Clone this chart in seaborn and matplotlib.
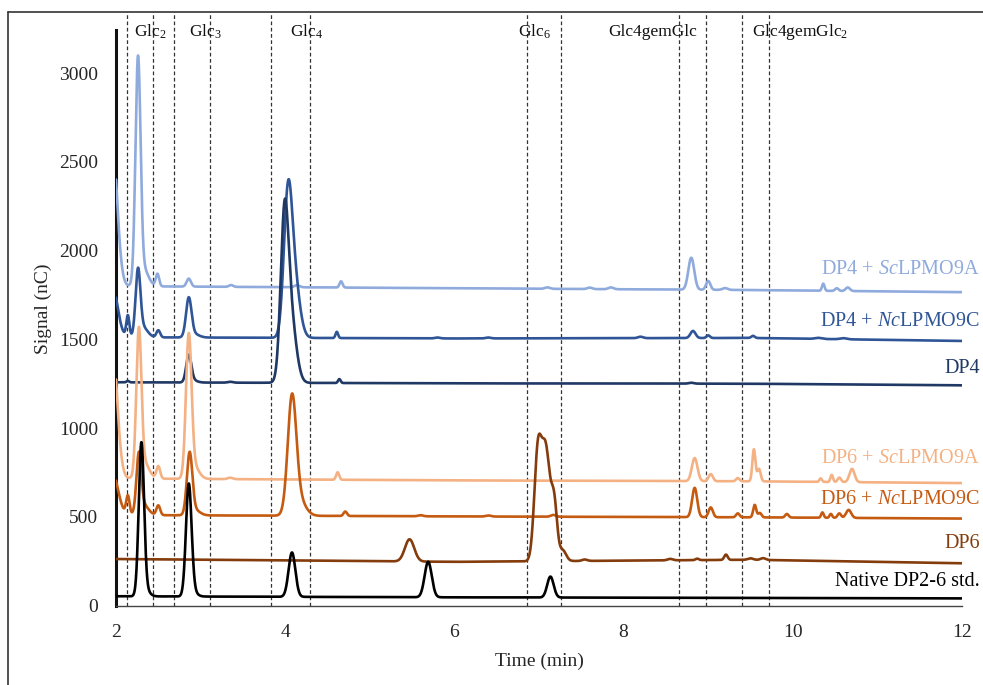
import numpy as np
import pandas as pd
import matplotlib.pyplot as plt
import seaborn as sns
from matplotlib.lines import Line2D

# ----------------------------------------------------------------------------
# Data
# each trace = baseline (times/values) + peaks (retention time, height, width)
# ----------------------------------------------------------------------------
SAMPLES = [
    "DP4 + $\\mathit{Sc}$LPMO9A",
    "DP4 + $\\mathit{Nc}$LPMO9C",
    "DP4",
    "DP6 + $\\mathit{Sc}$LPMO9A",
    "DP6 + $\\mathit{Nc}$LPMO9C",
    "DP6",
    "Native DP2-6 std.",
]
COLORS = ["#8FAADC", "#2F5597", "#203864", "#F4B183", "#C55A11", "#843C0C", "#000000"]
LABEL_Y = [1895, 1603, 1338, 826, 600, 352, 138]

BASE_T = [2, 6, 9.5, 12]

dp4sc_base = [1800, 1788, 1778, 1766]
dp4sc_rt = [1.95, 2.26, 2.32, 2.49, 2.86, 3.36, 4.14, 4.66, 7.10, 7.60, 7.85,
            8.80, 9.00, 9.20, 10.36, 10.52, 10.65]
dp4sc_h = [850, 1240, 100, 70, 45, 10, 12, 35, 8, 8, 10,
           180, 50, 10, 40, 15, 20]
dp4sc_w = [0.06, 0.03, 0.06, 0.02, 0.025, 0.025, 0.03, 0.018, 0.03, 0.03, 0.03,
           0.035, 0.025, 0.03, 0.015, 0.02, 0.025]

dp4nc_base = [1512, 1505, 1508, 1491]
dp4nc_rt = [1.95, 2.14, 2.26, 2.31, 2.50, 2.86, 2.92, 4.03, 4.10, 4.61,
            5.80, 6.40, 8.20, 8.82, 9.00, 9.53, 10.30, 10.60]
dp4nc_h = [300, 120, 350, 60, 40, 215, 20, 680, 350, 35,
           5, 5, 8, 40, 15, 12, 6, 6]
dp4nc_w = [0.065, 0.018, 0.028, 0.06, 0.022, 0.032, 0.06, 0.048, 0.065, 0.015,
           0.03, 0.03, 0.03, 0.03, 0.02, 0.02, 0.04, 0.04]

dp4_base = [1258, 1252, 1250, 1241]
dp4_rt = [2.14, 2.86, 2.91, 3.35, 3.99, 4.06, 4.64, 8.80]
dp4_h = [8, 150, 12, 5, 810, 380, 22, 5]
dp4_w = [0.015, 0.03, 0.05, 0.03, 0.045, 0.065, 0.015, 0.03]

dp6sc_base = [716, 705, 700, 690]
dp6sc_rt = [1.95, 2.27, 2.33, 2.50, 2.86, 2.92, 3.35, 4.62, 8.84, 9.03, 9.35,
            9.54, 9.60, 10.33, 10.46, 10.55, 10.70]
dp6sc_h = [790, 800, 90, 70, 780, 70, 8, 42, 130, 40, 18,
           180, 70, 20, 40, 25, 75]
dp6sc_w = [0.06, 0.03, 0.06, 0.022, 0.033, 0.06, 0.03, 0.018, 0.033, 0.025, 0.02,
           0.018, 0.02, 0.015, 0.015, 0.02, 0.03]

dp6nc_base = [510, 502, 497, 490]
dp6nc_rt = [1.95, 2.14, 2.27, 2.32, 2.50, 2.87, 2.93, 4.08, 4.15, 4.71, 5.60,
            6.40, 7.17, 8.84, 9.03, 9.35, 9.55, 9.61, 9.93, 10.35, 10.45,
            10.55, 10.66]
dp6nc_h = [250, 105, 315, 60, 55, 340, 30, 620, 100, 25, 6,
           6, 10, 165, 55, 22, 70, 25, 20, 30, 22,
           25, 45]
dp6nc_w = [0.07, 0.02, 0.028, 0.06, 0.022, 0.032, 0.06, 0.05, 0.08, 0.02, 0.03,
           0.03, 0.03, 0.03, 0.025, 0.02, 0.018, 0.02, 0.02, 0.015, 0.015,
           0.02, 0.03]

dp6_base = [262, 246, 258, 238]
dp6_rt = [5.47, 6.985, 7.08, 7.18, 7.28, 7.54, 8.55, 8.87, 9.21, 9.50, 9.65]
dp6_h = [125, 580, 620, 300, 60, 8, 8, 8, 30, 8, 10]
dp6_w = [0.055, 0.042, 0.05, 0.035, 0.04, 0.03, 0.03, 0.02, 0.02, 0.03, 0.03]

native_base = [52, 46, 43, 40]
native_rt = [2.30, 2.34, 2.86, 2.90, 4.08, 5.69, 7.135]
native_h = [840, 40, 615, 30, 250, 200, 118]
native_w = [0.031, 0.05, 0.033, 0.05, 0.04, 0.042, 0.038]

# dashed windows for each product and their labels
WINDOWS = [2.13, 2.44, 2.69, 3.11, 3.83, 4.29, 6.86, 7.26, 8.65, 8.97, 9.40, 9.72]
PRODUCTS = ["Glc$_2$", "Glc$_3$", "Glc$_4$", "Glc$_6$", "Glc4gemGlc", "Glc4gemGlc$_2$"]
PRODUCT_X = [2.40, 3.06, 4.25, 6.95, 8.34, 10.09]


def build_trace(t, base, rt, h, w):
    """Baseline drift plus gaussian peaks at the read-off retention times."""
    y = np.interp(t, BASE_T, base)
    for c, a, s in zip(rt, h, w):
        y = y + a * np.exp(-0.5 * ((t - c) / s) ** 2)
    return y


def main():
    t = np.arange(2.0, 12.0001, 0.0025)
    traces = [
        (dp4sc_base, dp4sc_rt, dp4sc_h, dp4sc_w),
        (dp4nc_base, dp4nc_rt, dp4nc_h, dp4nc_w),
        (dp4_base, dp4_rt, dp4_h, dp4_w),
        (dp6sc_base, dp6sc_rt, dp6sc_h, dp6sc_w),
        (dp6nc_base, dp6nc_rt, dp6nc_h, dp6nc_w),
        (dp6_base, dp6_rt, dp6_h, dp6_w),
        (native_base, native_rt, native_h, native_w),
    ]
    frames = []
    for name, tr in zip(SAMPLES, traces):
        frames.append(pd.DataFrame({"time": t, "signal": build_trace(t, *tr),
                                    "sample": name}))
    df = pd.concat(frames, ignore_index=True)

    sns.set_theme(style="white")
    plt.rcParams["font.family"] = ["Liberation Serif", "DejaVu Serif"]
    plt.rcParams["mathtext.fontset"] = "custom"
    plt.rcParams["mathtext.rm"] = "Liberation Serif"
    plt.rcParams["mathtext.it"] = "Liberation Serif:italic"
    plt.rcParams["mathtext.default"] = "regular"

    fig = plt.figure(figsize=(9.83, 6.85), dpi=100)
    ax = fig.add_axes([116 / 983, 1 - 605.5 / 685, 846 / 983, 593.5 / 685])

    for x in WINDOWS:
        ax.axvline(x, color="#333333", lw=0.9, ls=(0, (3, 2)), zorder=1)

    sns.lineplot(data=df, x="time", y="signal", hue="sample",
                 palette=dict(zip(SAMPLES, COLORS)), hue_order=SAMPLES,
                 linewidth=1.9, legend=False, estimator=None, sort=False,
                 ax=ax, zorder=3)

    ax.set_xlim(2, 12)
    ax.set_ylim(0, 3345)
    ax.set_xticks(range(2, 13, 2))
    ax.set_yticks(range(0, 3001, 500))
    ax.tick_params(axis="both", length=0, labelsize=14)
    ax.tick_params(axis="y", pad=13)
    ax.tick_params(axis="x", pad=13)

    for side in ["top", "right"]:
        ax.spines[side].set_visible(False)
    ax.spines["left"].set_bounds(0, 3245)
    ax.spines["left"].set_linewidth(2.2)
    ax.spines["left"].set_color("#111111")
    ax.spines["bottom"].set_linewidth(1.0)
    ax.spines["bottom"].set_color("#444444")

    ax.set_xlabel("Time (min)", fontsize=14)
    ax.set_ylabel("Signal (nC)", fontsize=14)
    ax.xaxis.set_label_coords(0.5, -0.079)
    ax.yaxis.set_label_coords(-0.0757, 0.5)

    for lab, x in zip(PRODUCTS, PRODUCT_X):
        ax.text(x, 3232, lab, ha="center", va="center", fontsize=12.5,
                color="#111111")

    for name, c, y in zip(SAMPLES, COLORS, LABEL_Y):
        ax.text(12.21, y, name, ha="right", va="center", fontsize=14.5,
                color=c, clip_on=False)

    # outer frame of the original figure (left and top edges visible)
    fx, fy = 8 / 983, 1 - 12 / 685
    fig.add_artist(Line2D([fx, fx], [0, fy], transform=fig.transFigure,
                          color="#333333", lw=1.2))
    fig.add_artist(Line2D([fx, 1], [fy, fy], transform=fig.transFigure,
                          color="#333333", lw=1.2))

    fig.savefig("out.png", dpi=100)
    plt.close(fig)


if __name__ == "__main__":
    main()
